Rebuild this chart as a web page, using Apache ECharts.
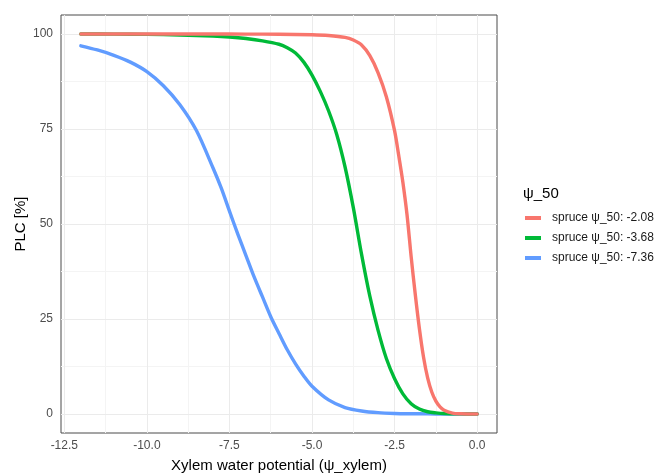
<!DOCTYPE html>
<html>
<head>
<meta charset="utf-8">
<script src="https://cdn.jsdelivr.net/npm/echarts@6/dist/echarts.min.js"></script>
<style>
  html, body { margin: 0; padding: 0; background: #ffffff; }
  #chart { width: 664px; height: 474px; }
</style>
</head>
<body>
<div id="chart"></div>
<script>
// Vulnerability curves: percent loss of conductivity vs xylem water potential
const seriesNames = ['spruce ψ_50: -2.08', 'spruce ψ_50: -3.68', 'spruce ψ_50: -7.36'];
const seriesColors = ['#F8766D', '#00BA38', '#619CFF'];

const psiRed = [-12, -10, -8, -7, -6, -5, -4.5, -4, -3.75, -3.5, -3.25, -3, -2.75, -2.5, -2.375, -2.25, -2.125, -2, -1.875, -1.75, -1.625, -1.5, -1.375, -1.25, -1.125, -1, -0.75, -0.5, -0.25, 0];
const plcRed = [100, 100, 99.99, 99.97, 99.93, 99.8, 99.6, 99.1, 98.4, 97.1, 94.3, 89.8, 83.5, 74.5, 68, 61, 52.5, 41.5, 31.5, 22.5, 15, 9.5, 5.8, 3.4, 1.9, 1.0, 0.25, 0.05, 0.01, 0];

const psiGreen = [-12, -11, -10, -9, -8, -7.5, -7, -6.5, -6, -5.75, -5.5, -5.25, -5, -4.75, -4.5, -4.25, -4, -3.75, -3.5, -3.25, -3, -2.75, -2.5, -2.25, -2, -1.75, -1.5, -1.25, -1, -0.5, 0];
const plcGreen = [99.99, 99.97, 99.9, 99.75, 99.45, 99.2, 98.8, 98.2, 97.3, 96.4, 95, 92.6, 89.2, 84.9, 79.8, 73.5, 65, 54.3, 42, 31, 22, 14.6, 9.3, 5.3, 2.7, 1.3, 0.6, 0.3, 0.12, 0.03, 0.01];

const psiBlue = [-12, -11.5, -11, -10.5, -10, -9.5, -9, -8.5, -8, -7.75, -7.5, -7.25, -7, -6.75, -6.5, -6.25, -6, -5.75, -5.5, -5.25, -5, -4.5, -4, -3.5, -3, -2.5, -2, -1.5, -1, -0.5, 0];
const plcBlue = [96.9, 95.8, 94.4, 92.6, 90.1, 86.4, 81.4, 74.6, 64.8, 59.5, 53.4, 47.4, 41.7, 36, 30.8, 25.6, 21.2, 16.9, 13.2, 10, 7.3, 3.7, 1.7, 0.8, 0.35, 0.15, 0.07, 0.03, 0.01, 0.005, 0];

const xTicks = [-12.5, -10, -7.5, -5, -2.5, 0];
const xMinor = [-11.25, -8.75, -6.25, -3.75, -1.25];
const yTicks = [0, 25, 50, 75, 100];
const yMinor = [12.5, 37.5, 62.5, 87.5];

const xTitle = 'Xylem water potential (ψ_xylem)';
const yTitle = 'PLC [%]';
const legendTitle = 'ψ_50';

const font = '"Liberation Sans", Arial, sans-serif';

function pairs(xs, ys) {
  return xs.map((x, i) => [x, ys[i]]);
}

const majorLine = { color: '#ebebeb', width: 1, type: 'solid' };
const minorLine = { color: '#f4f4f4', width: 1, type: 'solid' };

const gridLines = [].concat(
  xMinor.map(v => ({ xAxis: v, lineStyle: minorLine })),
  yMinor.map(v => ({ yAxis: v, lineStyle: minorLine })),
  xTicks.map(v => ({ xAxis: v, lineStyle: majorLine })),
  yTicks.map(v => ({ yAxis: v, lineStyle: majorLine }))
);

function curve(idx, xs, ys, z) {
  return {
    name: seriesNames[idx],
    type: 'line',
    data: pairs(xs, ys),
    symbol: 'none',
    showSymbol: false,
    smooth: 0.3,
    z: z,
    lineStyle: { color: seriesColors[idx], width: 3.4, cap: 'round', join: 'round' },
    itemStyle: { color: seriesColors[idx] }
  };
}

const chart = echarts.init(document.getElementById('chart'), null, { renderer: 'canvas' });

chart.setOption({
  animation: false,
  backgroundColor: '#ffffff',
  textStyle: { fontFamily: font },
  title: {
    text: legendTitle,
    left: 518,
    top: 181,
    textStyle: { fontFamily: font, fontSize: 15, fontWeight: 'normal', color: '#000000' }
  },
  legend: {
    orient: 'vertical',
    left: 520,
    top: 207,
    itemWidth: 16,
    itemHeight: 4,
    itemGap: 8,
    icon: 'rect',
    selectedMode: false,
    data: seriesNames,
    textStyle: { fontFamily: font, fontSize: 12, color: '#1a1a1a', padding: [0, 0, 0, 6] }
  },
  grid: {
    left: 61,
    right: 167,
    top: 15,
    bottom: 41,
    containLabel: false,
    outerBoundsMode: 'none',
    show: true,
    borderColor: '#4a4a4a',
    borderWidth: 1,
    backgroundColor: '#ffffff'
  },
  xAxis: {
    type: 'value',
    min: -12.6,
    max: 0.6,
    axisLine: { show: false },
    axisTick: { show: true, customValues: xTicks, length: 4, lineStyle: { color: '#333333', width: 1 } },
    axisLabel: {
      customValues: xTicks,
      formatter: v => v.toFixed(1),
      color: '#4d4d4d',
      fontSize: 12,
      margin: 7,
      fontFamily: font
    },
    splitLine: { show: false },
    name: xTitle,
    nameLocation: 'middle',
    nameGap: 25,
    nameMoveOverlap: false,
    nameTextStyle: { fontFamily: font, fontSize: 15, color: '#000000' }
  },
  yAxis: {
    type: 'value',
    min: -5,
    max: 105,
    axisLine: { show: false },
    axisTick: { show: true, customValues: yTicks, length: 4, lineStyle: { color: '#333333', width: 1 } },
    axisLabel: {
      customValues: yTicks,
      color: '#4d4d4d',
      fontSize: 12,
      margin: 8,
      fontFamily: font
    },
    splitLine: { show: false },
    name: yTitle,
    nameLocation: 'middle',
    nameGap: 33,
    nameRotate: 90,
    nameMoveOverlap: false,
    nameTextStyle: { fontFamily: font, fontSize: 15, color: '#000000' }
  },
  series: [
    {
      name: 'panel-grid',
      type: 'line',
      data: [[-12.6, -5]],
      symbol: 'none',
      showSymbol: false,
      lineStyle: { opacity: 0 },
      z: 1,
      silent: true,
      markLine: {
        z: 1,
        silent: true,
        symbol: ['none', 'none'],
        animation: false,
        label: { show: false },
        emphasis: { disabled: true },
        data: gridLines
      }
    },
    curve(2, psiBlue, plcBlue, 3),
    curve(1, psiGreen, plcGreen, 4),
    curve(0, psiRed, plcRed, 5)
  ]
});
</script>
</body>
</html>
